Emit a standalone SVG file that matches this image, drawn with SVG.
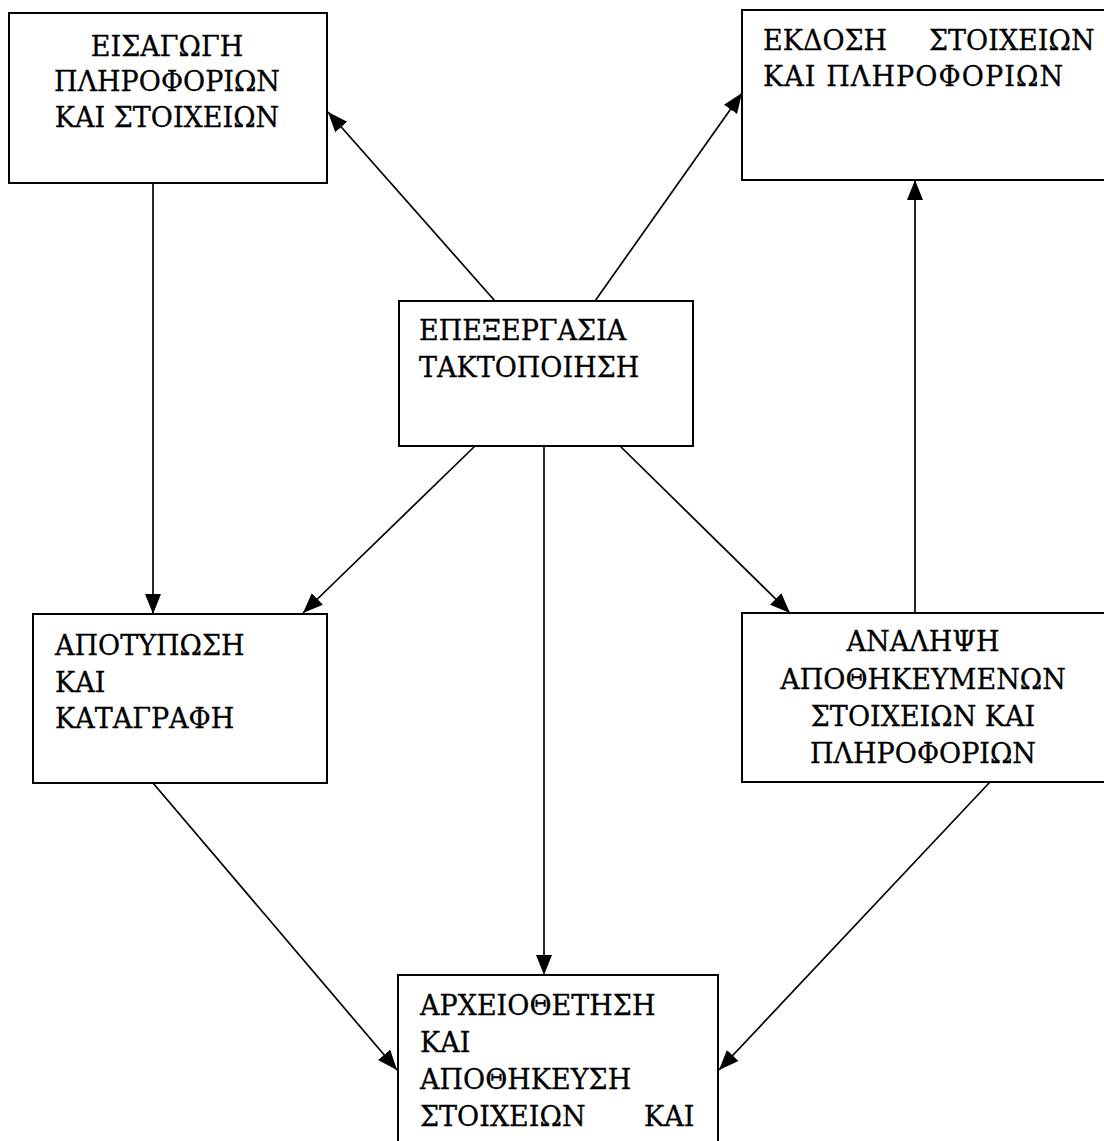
<svg xmlns="http://www.w3.org/2000/svg" width="1104" height="1141" viewBox="0 0 1104 1141">
<style>
.box{fill:#fff;stroke:#000;stroke-width:2}
.t{font-family:"DejaVu Serif","Liberation Serif",serif;font-size:27px;fill:#000;stroke:#000;stroke-width:0.3}
.c{text-anchor:middle}
.ln{stroke:#000;stroke-width:1.7;fill:none;marker-end:url(#ah)}
</style>
<defs>
<marker id="ah" markerUnits="userSpaceOnUse" markerWidth="22" markerHeight="18" refX="20" refY="8" orient="auto">
<path d="M0,0 L20,8 L0,16 z" fill="#000"/>
</marker>
</defs>
<rect width="1104" height="1141" fill="#fff"/>
<g id="connectors">
<line class="ln" x1="495" y1="301" x2="328" y2="112"/>
<line class="ln" x1="595" y1="301" x2="742" y2="93"/>
<line class="ln" x1="153" y1="183" x2="153" y2="614"/>
<line class="ln" x1="475" y1="446" x2="303" y2="613"/>
<line class="ln" x1="544" y1="446" x2="544" y2="975"/>
<line class="ln" x1="620" y1="446" x2="790" y2="613"/>
<line class="ln" x1="915" y1="613" x2="915" y2="180"/>
<line class="ln" x1="153" y1="783" x2="397" y2="1070"/>
<line class="ln" x1="990" y1="782" x2="719" y2="1070"/>
</g>
<g id="n1">
<rect class="box" x="9" y="13" width="318" height="170"/>
<text class="t c" x="167" y="56">ΕΙΣΑΓΩΓΗ</text>
<text class="t c" x="167" y="91">ΠΛΗΡΟΦΟΡΙΩΝ</text>
<text class="t c" x="167" y="127">ΚΑΙ ΣΤΟΙΧΕΙΩΝ</text>
</g>
<g id="n2">
<rect class="box" x="742" y="10" width="380" height="170"/>
<text class="t" x="763" y="50">ΕΚΔΟΣΗ<tspan x="929">ΣΤΟΙΧΕΙΩΝ</tspan></text>
<text class="t" x="763" y="86" textLength="300" lengthAdjust="spacing">ΚΑΙ ΠΛΗΡΟΦΟΡΙΩΝ</text>
</g>
<g id="n3">
<rect class="box" x="399" y="301" width="294" height="145"/>
<text class="t" x="419" y="340">ΕΠΕΞΕΡΓΑΣΙΑ</text>
<text class="t" x="419" y="377">ΤΑΚΤΟΠΟΙΗΣΗ</text>
</g>
<g id="n4">
<rect class="box" x="33" y="614" width="294" height="169"/>
<text class="t" x="55" y="655">ΑΠΟΤΥΠΩΣΗ</text>
<text class="t" x="55" y="692">ΚΑΙ</text>
<text class="t" x="55" y="728">ΚΑΤΑΓΡΑΦΗ</text>
</g>
<g id="n5">
<rect class="box" x="742" y="613" width="380" height="169"/>
<text class="t c" x="923" y="651">ΑΝΑΛΗΨΗ</text>
<text class="t c" x="923" y="689">ΑΠΟΘΗΚΕΥΜΕΝΩΝ</text>
<text class="t c" x="923" y="726">ΣΤΟΙΧΕΙΩΝ ΚΑΙ</text>
<text class="t c" x="923" y="763">ΠΛΗΡΟΦΟΡΙΩΝ</text>
</g>
<g id="n6">
<rect class="box" x="398" y="975" width="320" height="190"/>
<text class="t" x="420" y="1015">ΑΡΧΕΙΟΘΕΤΗΣΗ</text>
<text class="t" x="420" y="1052">ΚΑΙ</text>
<text class="t" x="420" y="1089">ΑΠΟΘΗΚΕΥΣΗ</text>
<text class="t" x="420" y="1126">ΣΤΟΙΧΕΙΩΝ<tspan x="644">ΚΑΙ</tspan></text>
</g>
</svg>
